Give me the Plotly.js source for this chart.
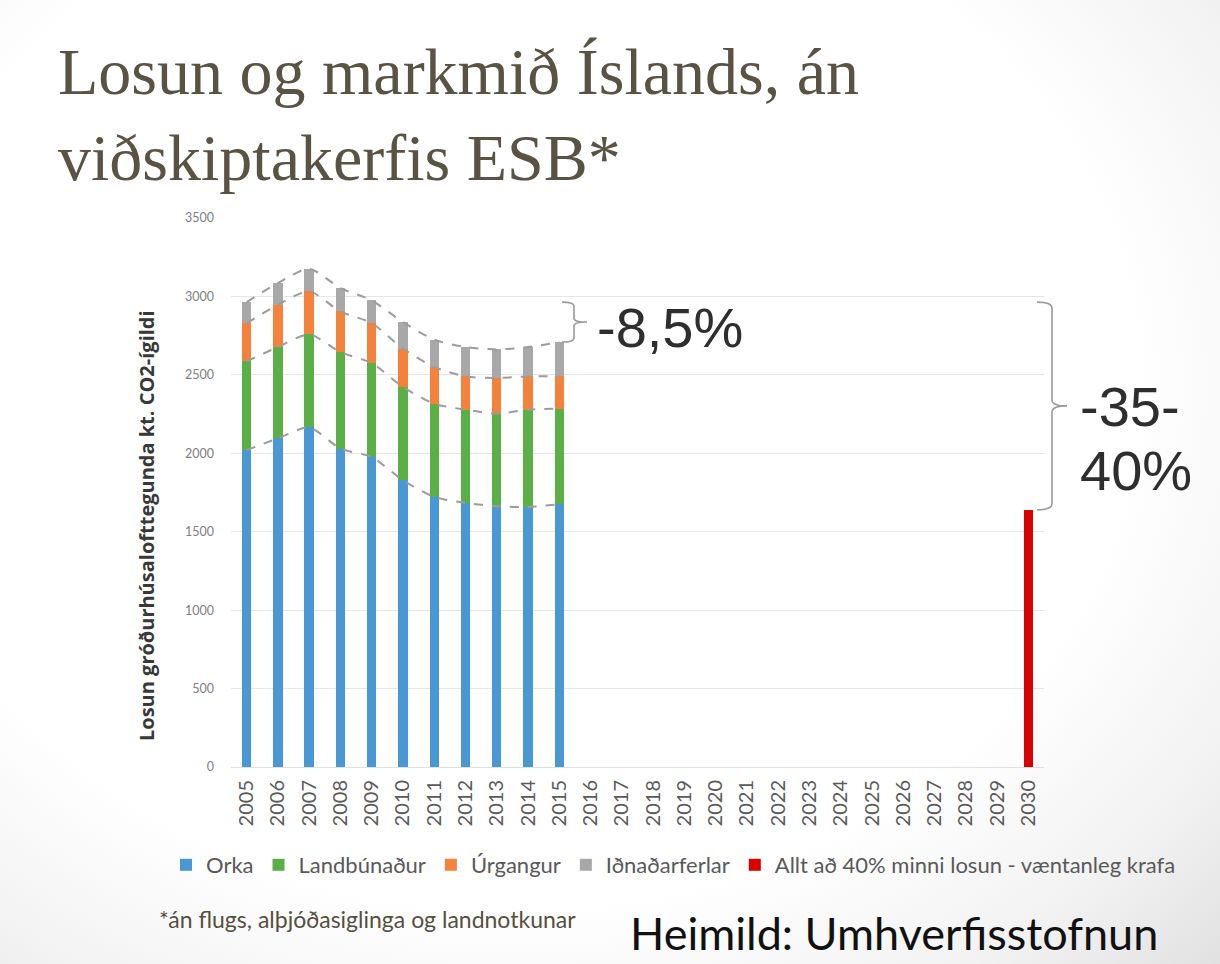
<!DOCTYPE html>
<html><head><meta charset="utf-8">
<script src="https://cdn.plot.ly/plotly-3.0.1.min.js"></script>
<style>
html,body{margin:0;padding:0;width:1220px;height:964px;overflow:hidden;
background: radial-gradient(ellipse 85% 90% at 42% 40%, #ffffff 60%, #f2f2f2 80%, #dcdcdc 100%);}
#chart{width:1220px;height:964px;}
</style></head><body><div id="chart"></div>
<script>
// ---- data ----
const years = ['2005','2006','2007','2008','2009','2010','2011','2012','2013','2014','2015','2016','2017','2018','2019','2020','2021','2022','2023','2024','2025','2026','2027','2028','2029','2030'];
const histYears = ['2005','2006','2007','2008','2009','2010','2011','2012','2013','2014','2015'];
const orka          = [2020, 2095, 2165, 2030, 1976, 1828, 1722, 1684, 1662, 1658, 1675];
const landbunadur   = [ 566,  582,  593,  615,  599,  594,  594,  594,  591,  620,  610];
const urgangur      = [ 244,  270,  274,  259,  255,  245,  234,  212,  227,  212,  205];
const idnadarferlar = [ 134,  138,  144,  149,  145,  169,  174,  187,  182,  187,  219];
const targetYears = ['2030'];
const targetValues = [1640];
const seriesNames = ['Orka','Landbúnaður','Úrgangur','Iðnaðarferlar','Allt að 40% minni losun - væntanleg krafa'];
const yTickVals = [0,500,1000,1500,2000,2500,3000,3500];
const labelReduction2015 = '-8,5%';
const labelTarget = ['-35-','40%'];

// ---- derived cumulative levels (for dashed connector lines / braces) ----
const lvl1 = orka.slice();
const lvl2 = lvl1.map((v,i)=>v+landbunadur[i]);
const lvl3 = lvl2.map((v,i)=>v+urgangur[i]);
const lvl4 = lvl3.map((v,i)=>v+idnadarferlar[i]);

// ---- layout helpers (pixel -> paper) ----
const L=231, R=1044, T=218, B=767, W=1220, H=964;
const px = X => (X-L)/(R-L);
const py = Y => (B-Y)/(B-T);

const colors = ['#4a98d3','#5aaf47','#f5823a','#a8a8a8','#d90000'];
const barW = 0.3;
const traces = [];
[orka, landbunadur, urgangur, idnadarferlar].forEach((arr,i)=>{
  traces.push({type:'bar', x:histYears, y:arr, name:seriesNames[i], width:barW,
    marker:{color:colors[i], line:{width:0}}, hoverinfo:'x+y+name'});
});
traces.push({type:'bar', x:targetYears, y:targetValues, name:seriesNames[4], width:barW,
  marker:{color:colors[4], line:{width:0}}});
[lvl1,lvl2,lvl3,lvl4].forEach(arr=>{
  traces.push({type:'scatter', mode:'lines', x:histYears, y:arr, showlegend:false,
    hoverinfo:'skip', line:{color:'#9c9c9c', width:2, dash:'dash', shape:'spline', smoothing:0.7}});
});

function brace(x0,x1,x2,yt,yb,r){
  const ym=(yt+yb)/2;
  return `M ${x0},${yt} Q ${x1},${yt} ${x1},${yt-r} L ${x1},${ym+r} Q ${x1},${ym} ${x2},${ym} `+
         `Q ${x1},${ym} ${x1},${ym-r} L ${x1},${yb+r} Q ${x1},${yb} ${x0},${yb}`;
}
const braceLine = {color:'#9a9a9a', width:1.6};
const shapes = [
  {type:'path', xref:'paper', yref:'y', path:brace(px(562),px(574),px(587),lvl4[0],lvl4[lvl4.length-1],25), line:braceLine},
  {type:'path', xref:'paper', yref:'y', path:brace(px(1037),px(1052),px(1067),lvl4[0],targetValues[0],40), line:braceLine}
];

const bigFont = {family:'Liberation Sans, Arial, sans-serif', size:56, color:'#2e2e2e'};
const annotations = [
  {text:labelReduction2015, xref:'paper', yref:'paper', x:px(595), y:py(327), xanchor:'left', yanchor:'middle', showarrow:false, font:bigFont},
  {text:labelTarget[0], xref:'paper', yref:'paper', x:px(1078), y:py(406), xanchor:'left', yanchor:'middle', showarrow:false, font:bigFont},
  {text:labelTarget[1], xref:'paper', yref:'paper', x:px(1078), y:py(470), xanchor:'left', yanchor:'middle', showarrow:false, font:bigFont},
  {text:'Losun gróðurhúsalofttegunda kt. CO2-ígildi', xref:'paper', yref:'paper', x:px(146), y:py(526), xanchor:'center', yanchor:'middle',
    textangle:-90, showarrow:false, font:{family:'Open Sans, sans-serif', size:20, color:'#383838', weight:'bold'}},
  {text:'*án flugs, alþjóðasiglinga og landnotkunar', xref:'paper', yref:'paper', x:px(157), y:py(919), xanchor:'left', yanchor:'middle', showarrow:false,
    font:{family:'Lato, sans-serif', size:23, color:'#564f3e'}},
  {text:'Heimild: Umhverfisstofnun', xref:'paper', yref:'paper', x:px(628), y:py(933), xanchor:'left', yanchor:'middle', showarrow:false,
    font:{family:'Lato, sans-serif', size:45, color:'#111111'}}
];

const layout = {
  width:W, height:H,
  margin:{l:L, r:W-R, t:T, b:H-B, pad:0},
  paper_bgcolor:'rgba(0,0,0,0)', plot_bgcolor:'rgba(0,0,0,0)',
  barmode:'stack', showlegend:true,
  title:{text:'Losun og markmið Íslands, án<br>viðskiptakerfis ESB*', xref:'container', yref:'container',
    x:58/W, xanchor:'left', y:1-94/H, yanchor:'top',
    font:{family:'Liberation Serif, serif', size:66, color:'#5a5242'}},
  xaxis:{type:'category', categoryorder:'array', categoryarray:years, tickvals:years, ticktext:years,
    tickangle:-90, tickfont:{family:'Lato, sans-serif', size:20, color:'#5a5a5a'},
    showgrid:false, showline:false, zeroline:false, ticks:'', ticklabelstandoff:8, fixedrange:true},
  yaxis:{range:[0,3500], tickvals:yTickVals, ticks:'', showline:false,
    gridcolor:'#e6e6e6', gridwidth:1, zeroline:true, zerolinecolor:'#e0e0e0', zerolinewidth:1,
    tickfont:{family:'Lato, sans-serif', size:12.5, color:'#808080'}, ticklabelstandoff:16, fixedrange:true},
  legend:{orientation:'h', x:px(166), xanchor:'left', y:py(865), yanchor:'middle',
    font:{family:'Lato, sans-serif', size:22, color:'#595959'}, bgcolor:'rgba(0,0,0,0)', traceorder:'normal',
    itemwidth:30, itemclick:false, itemdoubleclick:false},
  shapes:shapes, annotations:annotations
};
Plotly.newPlot('chart', traces, layout, {displayModeBar:false, staticPlot:true});
</script></body></html>
